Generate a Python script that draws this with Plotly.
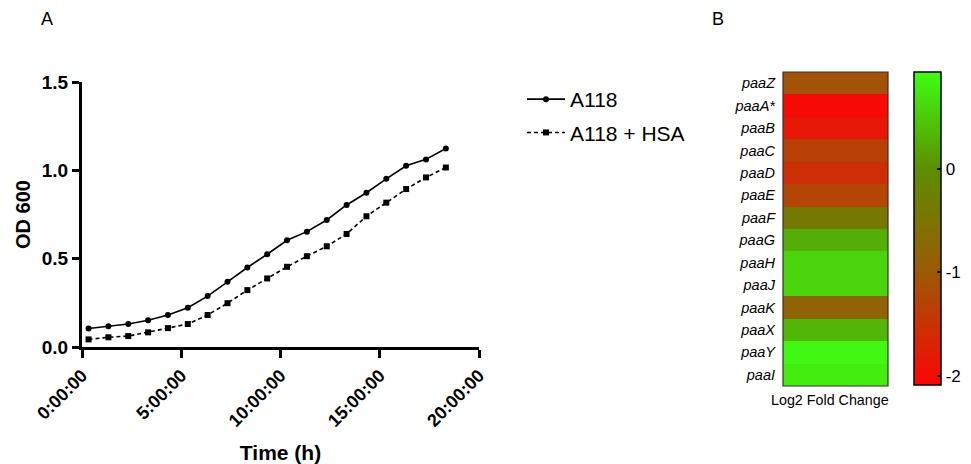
import plotly.graph_objects as go

# ---- Panel A data: growth curves ----
time_h = [0.33, 1.33, 2.33, 3.33, 4.33, 5.33, 6.33, 7.33, 8.33, 9.33,
          10.33, 11.33, 12.33, 13.33, 14.33, 15.33, 16.33, 17.33, 18.33]
od_a118 = [0.105, 0.117, 0.130, 0.151, 0.181, 0.222, 0.288, 0.369, 0.450, 0.525,
           0.604, 0.653, 0.719, 0.804, 0.873, 0.952, 1.026, 1.062, 1.124]
od_a118_hsa = [0.043, 0.055, 0.062, 0.083, 0.107, 0.130, 0.181, 0.248, 0.322, 0.388,
               0.454, 0.514, 0.570, 0.640, 0.740, 0.817, 0.894, 0.960, 1.016]
x_tickvals = [0, 5, 10, 15, 20]
x_ticktext = ["0:00:00", "5:00:00", "10:00:00", "15:00:00", "20:00:00"]
y_tickvals = [0.0, 0.5, 1.0, 1.5]
y_ticktext = ["0.0", "0.5", "1.0", "1.5"]

# ---- Panel B data: heatmap ----
genes = ["paaZ", "paaA*", "paaB", "paaC", "paaD", "paaE", "paaF",
         "paaG", "paaH", "paaJ", "paaK", "paaX", "paaY", "paaI"]
log2fc = [-1.09, -2.03, -1.85, -1.33, -1.55, -1.27, -0.42,
          0.27, 0.58, 0.58, -0.82, 0.33, 0.88, 0.79]
cb_tickvals = [0, -1, -2]

FONT = "Arial, Liberation Sans, sans-serif"

fig = go.Figure()

fig.add_trace(go.Scatter(
    x=time_h, y=od_a118, name="A118", mode="lines+markers", legendgroup="a",
    line=dict(color="black", width=1.6),
    marker=dict(symbol="circle", size=6, color="black"),
    xaxis="x", yaxis="y"))
fig.add_trace(go.Scatter(
    x=time_h, y=od_a118_hsa, name="A118 + HSA", mode="lines+markers", legendgroup="b",
    line=dict(color="black", width=1.6, dash="4px,3px"),
    marker=dict(symbol="square", size=6, color="black"),
    xaxis="x", yaxis="y"))

colorscale = [
    [0.0, "rgb(252,5,5)"],
    [0.36, "rgb(155,90,5)"],
    [0.69, "rgb(92,142,0)"],
    [1.0, "rgb(62,255,18)"],
]

fig.add_trace(go.Heatmap(
    z=[[v] for v in log2fc], y=genes, x=["Log2 Fold Change"],
    colorscale=colorscale, zmin=-2.09, zmax=0.94,
    xaxis="x2", yaxis="y2", showscale=True,
    colorbar=dict(
        x=914 / 971, xanchor="left", xpad=0, ypad=0,
        y=1 - 72 / 464, yanchor="top",
        lenmode="pixels", len=313,
        thicknessmode="pixels", thickness=27,
        outlinewidth=1.5, outlinecolor="black",
        tickvals=cb_tickvals, ticktext=[str(v) for v in cb_tickvals],
        ticks="inside", ticklen=4, tickwidth=1.5, tickcolor="black",
        tickfont=dict(family=FONT, size=17, color="black"),
    ),
    hoverinfo="skip"))

W, H = 971, 464
fig.update_layout(
    width=W, height=H,
    margin=dict(l=0, r=0, t=0, b=0, autoexpand=False),
    paper_bgcolor="white", plot_bgcolor="white",
    font=dict(family=FONT, color="black"),
    showlegend=True,
    legend=dict(x=522 / W, y=1 - 79 / H, xanchor="left", yanchor="top",
                font=dict(family=FONT, size=21, color="black"),
                bgcolor="rgba(0,0,0,0)", tracegroupgap=3, itemwidth=38),
    xaxis=dict(
        domain=[82 / W, 479 / W], range=[0, 20], automargin=False,
        tickvals=x_tickvals, ticktext=x_ticktext, tickangle=-45,
        tickfont=dict(family=FONT, size=18, color="black", weight="bold"),
        ticks="outside", ticklen=8, tickwidth=3, tickcolor="black",
        showline=True, linewidth=3, linecolor="black",
        showgrid=False, zeroline=False, anchor="y",
        title=dict(text="<b>Time (h)</b>", font=dict(family=FONT, size=21, color="black"),
                   standoff=16)),
    yaxis=dict(
        domain=[1 - 347 / H, 1 - 82 / H], range=[0, 1.5], automargin=False,
        tickvals=y_tickvals, ticktext=y_ticktext,
        tickfont=dict(family=FONT, size=19, color="black", weight="bold"),
        ticks="outside", ticklen=7, tickwidth=3, tickcolor="black",
        showline=True, linewidth=3, linecolor="black",
        showgrid=False, zeroline=False, anchor="x",
        title=dict(text="<b>OD 600</b>", font=dict(family=FONT, size=20, color="black"),
                   standoff=6)),
    xaxis2=dict(domain=[783 / W, 888 / W], anchor="y2", showticklabels=False, automargin=False,
                showgrid=False, zeroline=False, showline=False, ticks=""),
    yaxis2=dict(domain=[1 - 386 / H, 1 - 72 / H], anchor="x2", autorange="reversed",
                automargin=False,
                tickvals=genes, ticktext=["<i>%s</i>" % g for g in genes],
                tickfont=dict(family=FONT, size=14.5, color="black"),
                showgrid=False, zeroline=False, showline=False, ticks="", ticklabelstandoff=7),
)

# heatmap border
fig.add_shape(type="rect", xref="x2 domain", yref="y2 domain", x0=0, x1=1, y0=0, y1=1,
              line=dict(color="#333", width=1.2), fillcolor="rgba(0,0,0,0)")

fig.add_annotation(text="Log2 Fold Change", xref="paper", yref="paper",
                   x=830 / W, y=1 - 400 / H, xanchor="center", yanchor="middle",
                   showarrow=False, font=dict(family=FONT, size=14.3, color="black"))
fig.add_annotation(text="A", xref="paper", yref="paper", x=47 / W, y=1 - 19 / H,
                   xanchor="center", yanchor="middle",
                   showarrow=False, font=dict(family=FONT, size=18, color="black"))
fig.add_annotation(text="B", xref="paper", yref="paper", x=718 / W, y=1 - 19 / H,
                   xanchor="center", yanchor="middle",
                   showarrow=False, font=dict(family=FONT, size=18, color="black"))

fig.write_html("out.html")
